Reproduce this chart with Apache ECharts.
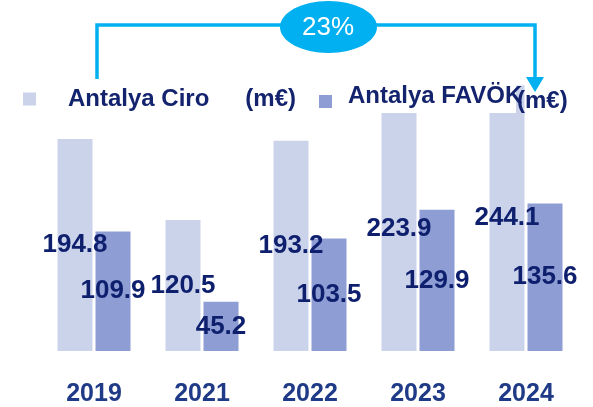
<!DOCTYPE html>
<html>
<head>
<meta charset="utf-8">
<script src="https://cdn.jsdelivr.net/npm/echarts@6/dist/echarts.min.js"></script>
<style>
  html, body { margin: 0; padding: 0; background: #fff; }
  #chart { width: 593px; height: 407px; }
</style>
</head>
<body>
<div id="chart"></div>
<script>
// Antalya revenue (Ciro) and EBITDA (FAVÖK), million euro
const years = ['2019', '2021', '2022', '2023', '2024'];
const ciro = [194.8, 120.5, 193.2, 223.9, 244.1];
const favok = [109.9, 45.2, 103.5, 129.9, 135.6];
const growthLabel = '23%';
const unitLabel = '(m€)';

const FONT = '"Liberation Sans", Arial, sans-serif';
const NAVY = '#14236E';
const CYAN = '#00B0F0';

const chart = echarts.init(document.getElementById('chart'), null, { renderer: 'canvas' });

const labelStyle = {
  show: true,
  position: 'inside',
  fontFamily: FONT,
  fontWeight: 'bold',
  fontSize: 26,
  color: '#0E1F6E'
};

chart.setOption({
  animation: false,
  backgroundColor: '#fff',
  grid: { left: 40, right: 13, top: 79, bottom: 54 },
  xAxis: {
    type: 'category',
    data: years,
    axisLine: { show: false },
    axisTick: { show: false },
    axisLabel: {
      margin: 31,
      fontFamily: FONT,
      fontWeight: 'bold',
      fontSize: 25,
      color: '#1F3A86'
    }
  },
  yAxis: {
    type: 'value',
    min: 0,
    max: 250,
    show: false,
    splitLine: { show: false }
  },
  legend: [
    {
      data: ['Antalya Ciro'],
      left: 23,
      top: 87,
      padding: 0,
      itemWidth: 13,
      itemHeight: 13,
      icon: 'rect',
      z: 20,
      formatter: function (name) { return '{a|' + name + '}{b|' + unitLabel + '}'; },
      textStyle: {
        rich: {
          a: { fontFamily: FONT, fontWeight: 'bold', fontSize: 24, color: NAVY, padding: [0, 0, 0, 27] },
          b: { fontFamily: FONT, fontWeight: 'bold', fontSize: 24, color: NAVY, padding: [0, 0, 0, 36] }
        }
      }
    },
    {
      data: ['Antalya FAVÖK'],
      left: 319,
      top: 84,
      padding: 0,
      itemWidth: 13,
      itemHeight: 13,
      icon: 'rect',
      z: 20,
      formatter: function (name) { return '{a|' + name + '}'; },
      textStyle: {
        rich: {
          a: { fontFamily: FONT, fontWeight: 'bold', fontSize: 24, color: NAVY, padding: [0, 0, 11, 11] }
        }
      }
    }
  ],
  series: [
    {
      name: 'Antalya Ciro',
      type: 'bar',
      data: ciro,
      barWidth: 35,
      barGap: '8.6%',
      itemStyle: { color: '#CBD3EB' },
      label: labelStyle
    },
    {
      name: 'Antalya FAVÖK',
      type: 'bar',
      data: favok,
      barWidth: 35,
      itemStyle: { color: '#8E9ED4' },
      label: labelStyle
    }
  ],
  graphic: [
    // white backing behind the FAVÖK legend text
    {
      type: 'rect',
      z: 10,
      shape: { x: 314, y: 60, width: 202, height: 53 },
      style: { fill: '#fff' }
    },
    {
      type: 'text',
      z: 30,
      left: 517,
      top: 89,
      style: {
        text: unitLabel,
        font: 'bold 24px ' + FONT,
        fill: NAVY
      }
    },
    // growth bracket from the first to the last year
    {
      type: 'polyline',
      z: 25,
      shape: { points: [[97, 79], [97, 25], [535, 25], [535, 80]] },
      style: { stroke: CYAN, lineWidth: 3.5, fill: null }
    },
    {
      type: 'polygon',
      z: 25,
      shape: { points: [[526, 77], [544, 77], [535, 92]] },
      style: { fill: CYAN }
    },
    {
      type: 'ellipse',
      z: 26,
      shape: { cx: 328.5, cy: 27, rx: 48.5, ry: 26 },
      style: { fill: CYAN }
    },
    {
      type: 'text',
      z: 27,
      x: 328,
      y: 28,
      style: {
        text: growthLabel,
        font: '26px ' + FONT,
        fill: '#fff',
        align: 'center',
        verticalAlign: 'middle'
      }
    }
  ]
});
</script>
</body>
</html>
